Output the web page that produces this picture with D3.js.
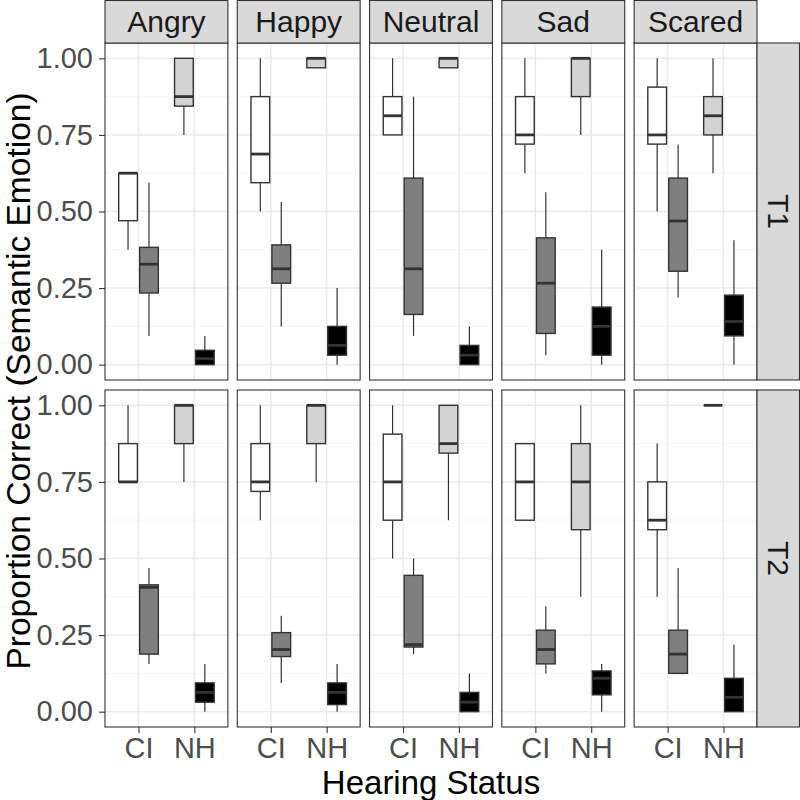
<!DOCTYPE html>
<html><head><meta charset="utf-8">
<script src="https://cdn.jsdelivr.net/npm/d3@7"></script>
<style>body{margin:0;background:#fff}svg{display:block}text{font-family:"Liberation Sans",Arial,sans-serif}</style>
</head><body><svg id="c" width="800" height="800"></svg>
<script>
const emotions = ["Angry","Happy","Neutral","Sad","Scared"];
const times = ["T1","T2"];
const statuses = ["CI","NH"];
const yTicks = [0, 0.25, 0.5, 0.75, 1];
const yTickLabels = ["0.00","0.25","0.50","0.75","1.00"];
const yMinor = [0.125, 0.375, 0.625, 0.875];
// box stats per emotion: [lower whisker, q1, median, q3, upper whisker]
const ciTargetT1 = [[0.375,0.47,0.625,0.625,0.625],[0.5,0.594,0.6875,0.875,1],[0.75,0.75,0.8125,0.875,1],[0.625,0.72,0.75,0.875,1],[0.5,0.72,0.75,0.906,1]];
const ciOtherT1  = [[0.094,0.234,0.328,0.383,0.594],[0.125,0.266,0.313,0.391,0.531],[0.094,0.164,0.313,0.609,0.875],[0.031,0.102,0.266,0.414,0.563],[0.219,0.305,0.469,0.609,0.719]];
const nhTargetT1 = [[0.75,0.844,0.875,1,1],[0.969,0.969,1,1,1],[0.969,0.969,1,1,1],[0.75,0.875,1,1,1],[0.625,0.75,0.8125,0.875,1]];
const nhOtherT1  = [[0,0,0.02,0.047,0.094],[0,0.031,0.063,0.125,0.25],[0,0,0.031,0.063,0.125],[0,0.031,0.125,0.188,0.375],[0,0.094,0.141,0.227,0.406]];
const ciTargetT2 = [[0.75,0.75,0.75,0.875,1],[0.625,0.719,0.75,0.875,1],[0.5,0.625,0.75,0.906,1],[0.625,0.625,0.75,0.875,0.875],[0.375,0.594,0.625,0.75,0.875]];
const ciOtherT2  = [[0.156,0.188,0.406,0.414,0.469],[0.094,0.18,0.203,0.258,0.313],[0.188,0.211,0.219,0.445,0.5],[0.125,0.156,0.203,0.266,0.344],[0.125,0.125,0.188,0.266,0.469]];
const nhTargetT2 = [[0.75,0.875,1,1,1],[0.75,0.875,1,1,1],[0.625,0.844,0.875,1,1],[0.375,0.594,0.75,0.875,1],[1,1,1,1,1]];
const nhOtherT2  = [[0,0.031,0.063,0.094,0.156],[0,0.023,0.063,0.094,0.156],[0,0,0.031,0.063,0.125],[0,0.055,0.109,0.133,0.156],[0,0,0.047,0.109,0.219]];

const seriesDefs = [
  {status:"CI", slot:0, fill:"#ffffff", data:{T1:ciTargetT1, T2:ciTargetT2}},
  {status:"CI", slot:1, fill:"#7f7f7f", data:{T1:ciOtherT1, T2:ciOtherT2}},
  {status:"NH", slot:0, fill:"#d3d3d3", data:{T1:nhTargetT1, T2:nhTargetT2}},
  {status:"NH", slot:1, fill:"#000000", data:{T1:nhOtherT1, T2:nhOtherT2}}
];

const svg = d3.select("#c");
const plotL = 105, plotR = 757, gapX = 9.4;
const panelW = (plotR - plotL - gapX*4)/5;
const rowTop = [43, 390], panelH = 337;
const stripTopY = 0, stripH = 43;
const stripRX = 757, stripRW = 43;

const yScales = rowTop.map(t => d3.scaleLinear().domain([-0.05, 1.05]).range([t+panelH, t]));
const xOuter = d3.scaleBand().domain(emotions).range([plotL, plotR]).paddingInner(gapX/(panelW+gapX)).paddingOuter(0);
const dodge = d3.scaleBand().domain([0,1]).range([-0.375, 0.375]);

times.forEach((t, ri) => {
  const y = yScales[ri];
  emotions.forEach((e, ci) => {
    const left = xOuter(e);
    const x = d3.scaleLinear().domain([0.4, 2.6]).range([left, left + xOuter.bandwidth()]);
    const xc = d3.scalePoint().domain(statuses).range([x(1), x(2)]);
    const g = svg.append("g");
    g.append("rect").attr("x", left).attr("y", rowTop[ri]).attr("width", xOuter.bandwidth()).attr("height", panelH).attr("fill", "#fff");
    g.selectAll(".minor").data(yMinor).join("line")
      .attr("x1", left).attr("x2", left + xOuter.bandwidth())
      .attr("y1", d => y(d)).attr("y2", d => y(d)).attr("stroke", "#f2f2f2").attr("stroke-width", 0.8);
    g.selectAll(".major").data(yTicks).join("line")
      .attr("x1", left).attr("x2", left + xOuter.bandwidth())
      .attr("y1", d => y(d)).attr("y2", d => y(d)).attr("stroke", "#ebebeb").attr("stroke-width", 1.5);
    g.selectAll(".vmaj").data(statuses).join("line")
      .attr("x1", d => xc(d)).attr("x2", d => xc(d))
      .attr("y1", rowTop[ri]).attr("y2", rowTop[ri] + panelH).attr("stroke", "#ebebeb").attr("stroke-width", 1.5);

    const boxW = x(0.335) - x(0);
    seriesDefs.forEach(s => {
      const st = s.data[t][ci];
      const cx = x(statuses.indexOf(s.status) + 1 + dodge(s.slot) + dodge.bandwidth()/2);
      const bg = g.append("g");
      bg.append("line").attr("x1", cx).attr("x2", cx).attr("y1", y(st[4])).attr("y2", y(st[3])).attr("stroke", "#333").attr("stroke-width", 1.2);
      bg.append("line").attr("x1", cx).attr("x2", cx).attr("y1", y(st[1])).attr("y2", y(st[0])).attr("stroke", "#333").attr("stroke-width", 1.2);
      bg.append("rect").attr("x", cx - boxW/2).attr("y", y(st[3])).attr("width", boxW)
        .attr("height", Math.max(0, y(st[1]) - y(st[3]))).attr("fill", s.fill).attr("stroke", "#333").attr("stroke-width", 1.4);
      bg.append("line").attr("x1", cx - boxW/2).attr("x2", cx + boxW/2).attr("y1", y(st[2])).attr("y2", y(st[2]))
        .attr("stroke", "#333").attr("stroke-width", 2.8);
    });
    g.append("rect").attr("x", left).attr("y", rowTop[ri]).attr("width", xOuter.bandwidth()).attr("height", panelH)
      .attr("fill", "none").attr("stroke", "#333").attr("stroke-width", 1.1);

    if (ri === 0) {
      svg.append("rect").attr("x", left).attr("y", stripTopY + 0.5).attr("width", xOuter.bandwidth()).attr("height", stripH - 0.5)
        .attr("fill", "#d9d9d9").attr("stroke", "#333").attr("stroke-width", 1.1);
      svg.append("text").attr("x", left + xOuter.bandwidth()/2).attr("y", stripTopY + stripH/2).attr("dy", "0.35em")
        .attr("text-anchor", "middle").attr("font-size", 30).attr("fill", "#1a1a1a").text(e);
    }
    if (ri === 1) {
      const ax = svg.append("g").attr("transform", `translate(0,${rowTop[1] + panelH})`)
        .call(d3.axisBottom(xc).tickSize(6).tickPadding(4));
      ax.select(".domain").remove();
      ax.selectAll(".tick line").attr("stroke", "#333").attr("stroke-width", 1.1);
      ax.selectAll(".tick text").attr("font-size", 29).attr("fill", "#4d4d4d").attr("font-family", "Liberation Sans, Arial, sans-serif");
    }
  });
  // right strip
  svg.append("rect").attr("x", stripRX).attr("y", rowTop[ri]).attr("width", stripRW - 0.5).attr("height", panelH)
    .attr("fill", "#d9d9d9").attr("stroke", "#333").attr("stroke-width", 1.1);
  svg.append("text").attr("transform", `translate(${stripRX + stripRW/2},${rowTop[ri] + panelH/2}) rotate(90)`)
    .attr("dy", "0.35em").attr("text-anchor", "middle").attr("font-size", 30).attr("fill", "#1a1a1a").text(t);
  // y axis
  const ay = svg.append("g").attr("transform", `translate(${plotL},0)`)
    .call(d3.axisLeft(y).tickValues(yTicks).tickFormat((d,i) => yTickLabels[i]).tickSize(6).tickPadding(6));
  ay.select(".domain").remove();
  ay.selectAll(".tick line").attr("stroke", "#333").attr("stroke-width", 1.1);
  ay.selectAll(".tick text").attr("font-size", 29).attr("fill", "#4d4d4d").attr("font-family", "Liberation Sans, Arial, sans-serif");
});

svg.append("text").attr("x", (plotL + plotR)/2).attr("y", 794).attr("text-anchor", "middle")
  .attr("font-size", 33).attr("fill", "#000").text("Hearing Status");
svg.append("text").attr("transform", `translate(30,381) rotate(-90)`)
  .attr("text-anchor", "middle").attr("font-size", 33.5).attr("fill", "#000").text("Proportion Correct (Semantic Emotion)");
</script></body></html>
